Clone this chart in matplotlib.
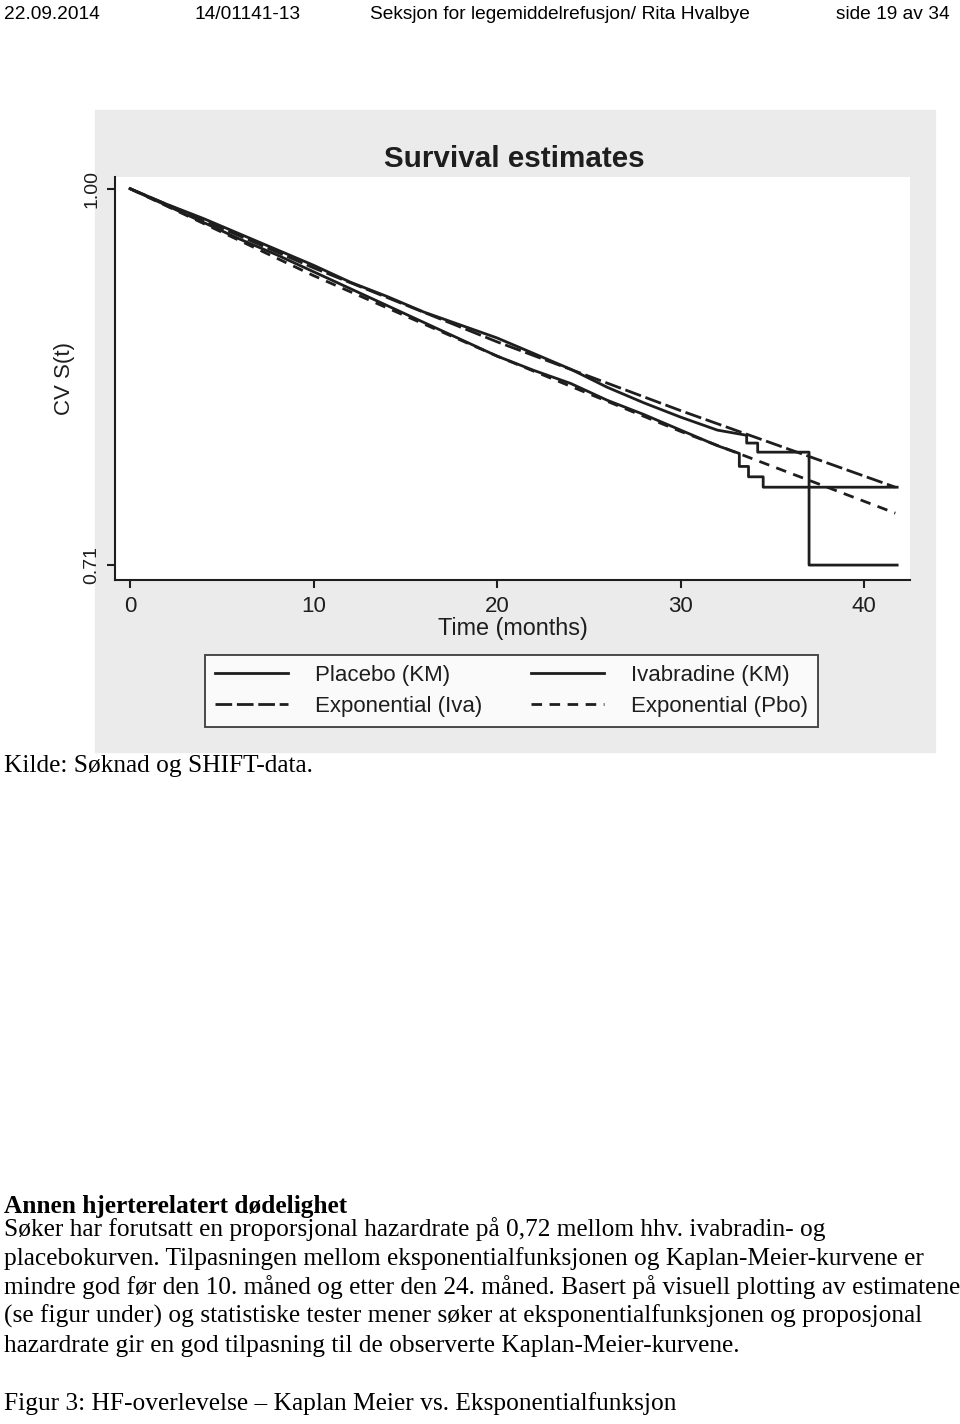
import matplotlib
matplotlib.use('Agg')
import matplotlib.pyplot as plt
from matplotlib.patches import Rectangle

W, H = 960, 1424

# values
iva_km_t = [0, 2, 4, 6, 8, 10, 12, 14, 16, 18, 20, 22, 24, 26, 28, 30, 31, 32,
            33.6, 33.6, 34.2, 34.2, 37.0, 37.0, 41.8]
iva_km_s = [1.0, 0.988, 0.977, 0.965, 0.953, 0.941, 0.928, 0.917, 0.905, 0.895,
            0.885, 0.873, 0.861, 0.847, 0.835, 0.824, 0.819, 0.814,
            0.810, 0.804, 0.804, 0.797, 0.797, 0.710, 0.710]
pbo_km_t = [0, 2, 4, 6, 8, 10, 12, 14, 16, 18, 20, 22, 24, 26, 28, 30, 32,
            33.2, 33.2, 33.7, 33.7, 34.5, 34.5, 41.8]
pbo_km_s = [1.0, 0.987, 0.974, 0.961, 0.949, 0.936, 0.923, 0.910, 0.897, 0.884,
            0.871, 0.860, 0.850, 0.837, 0.826, 0.814, 0.802,
            0.796, 0.786, 0.786, 0.778, 0.778, 0.770, 0.770]
exp_t = [0, 10, 20, 30, 41.7]
iva_exp_s = [1.0, 0.939, 0.882, 0.829, 0.770]
pbo_exp_s = [1.0, 0.933, 0.871, 0.813, 0.750]

x_ticks = [0, 10, 20, 30, 40]
y_ticks = [0.71, 1.00]
y_tick_labels = ['0.71', '1.00']

header = [(4, '22.09.2014'), (195, '14/01141-13'),
          (370, 'Seksjon for legemiddelrefusjon/ Rita Hvalbye'), (836, 'side 19 av 34')]

body_lines = [
    'Søker har forutsatt en proporsjonal hazardrate på 0,72 mellom hhv. ivabradin- og',
    'placebokurven. Tilpasningen mellom eksponentialfunksjonen og Kaplan-Meier-kurvene er',
    'mindre god før den 10. måned og etter den 24. måned. Basert på visuell plotting av estimatene',
    '(se figur under) og statistiske tester mener søker at eksponentialfunksjonen og proposjonal',
    'hazardrate gir en god tilpasning til de observerte Kaplan-Meier-kurvene.',
]
body_y = [1236, 1265, 1294, 1323, 1352]

ink = '#1e1e1e'
sans = ['Liberation Sans', 'DejaVu Sans']
serif = ['Liberation Serif', 'DejaVu Serif']
body_size = 18.3


def fx(x):
    return x / W


def fy(y):
    return 1 - y / H


fig = plt.figure(figsize=(W / 100, H / 100), dpi=100)

# grey speckled scan background behind the chart
fig.patches.append(Rectangle((fx(95), fy(752)), fx(935) - fx(95), fy(110) - fy(752),
                             transform=fig.transFigure, color='#ebebeb', zorder=-10))

ax = fig.add_axes([fx(115), fy(580), fx(910) - fx(115), fy(177) - fy(580)])
ax.set_facecolor('white')
lw = 2.0
ax.plot(pbo_km_t, pbo_km_s, color=ink, lw=lw, label='Placebo (KM)')
ax.plot(exp_t, iva_exp_s, color=ink, lw=lw, dashes=(6, 1.7), label='Exponential (Iva)')
ax.plot(iva_km_t, iva_km_s, color=ink, lw=lw, label='Ivabradine (KM)')
ax.plot(exp_t, pbo_exp_s, color=ink, lw=lw, dashes=(3.8, 2.7), label='Exponential (Pbo)')

ax.set_xlim(-0.82, 42.5)
ax.set_ylim(0.6985, 1.009)
for s in ['top', 'right']:
    ax.spines[s].set_visible(False)
for s in ['left', 'bottom']:
    ax.spines[s].set_linewidth(1.5)
    ax.spines[s].set_color(ink)
ax.tick_params(length=5.8, width=1.5, color=ink, labelcolor=ink)
ax.tick_params(axis='x', pad=6, labelsize=16)
ax.tick_params(axis='y', pad=5, labelsize=14)
ax.set_xticks(x_ticks)
ax.set_yticks(y_ticks, y_tick_labels, rotation=90, va='center')
for lab in ax.get_xticklabels() + ax.get_yticklabels():
    lab.set_family(sans)
ax.set_xlabel('Time (months)', fontsize=16.8, family=sans, color=ink, labelpad=0)
ax.set_ylabel('CV S(t)', fontsize=16, family=sans, color=ink, labelpad=6)

fig.text(fx(514), fy(167), 'Survival estimates', ha='center', va='baseline',
         fontsize=21.3, fontweight='bold', family=sans, color=ink)

leg = fig.legend(loc='center', bbox_to_anchor=(fx(205), fy(727), fx(818) - fx(205), fy(655) - fy(727)),
                 mode='expand', ncol=2, prop={'family': sans, 'size': 16},
                 frameon=True, fancybox=False, edgecolor=ink, handlelength=3.3,
                 handletextpad=1.2, labelspacing=0.45, borderpad=0.45, borderaxespad=0)
leg.get_frame().set_linewidth(1.4)
for t in leg.get_texts():
    t.set_color(ink)

# page text around the figure
for x, s in header:
    fig.text(fx(x), fy(19), s, ha='left', va='baseline', fontsize=13.8, family=sans, color='black')

fig.text(fx(4), fy(772), 'Kilde: Søknad og SHIFT-data.', ha='left', va='baseline',
         fontsize=body_size, family=serif, color='black')
fig.text(fx(4), fy(1213), 'Annen hjerterelatert dødelighet', ha='left', va='baseline',
         fontsize=body_size, fontweight='bold', family=serif, color='black')
for y, s in zip(body_y, body_lines):
    fig.text(fx(4), fy(y), s, ha='left', va='baseline', fontsize=body_size, family=serif, color='black')
fig.text(fx(4), fy(1410), 'Figur 3: HF-overlevelse – Kaplan Meier vs. Eksponentialfunksjon',
         ha='left', va='baseline', fontsize=body_size, family=serif, color='black')

fig.savefig('out.png', dpi=100)
